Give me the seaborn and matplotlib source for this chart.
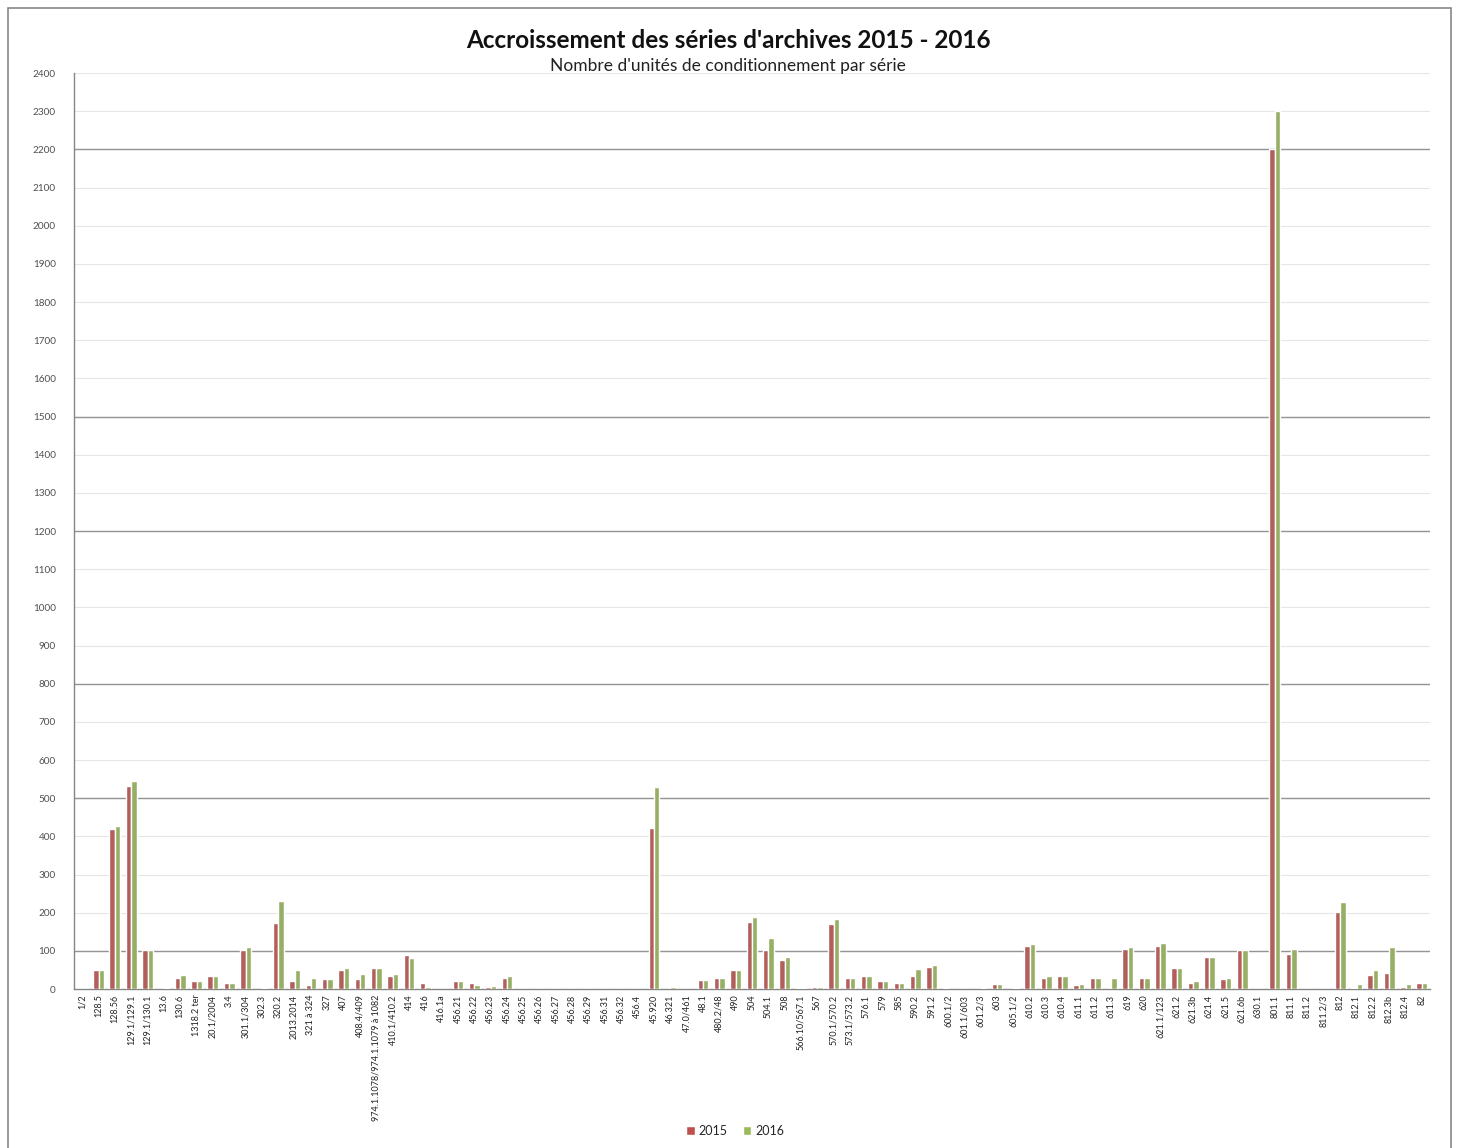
import numpy as np
import pandas as pd
import matplotlib
matplotlib.use("Agg")
import matplotlib.pyplot as plt
from matplotlib.patches import Patch, Rectangle
import seaborn as sns

# series codes (x axis)
series = [
    "1/2", "128.5", "128.56", "129.1/129.1", "129.1/130.1", "13.6", "130.6",
    "1318.2 ter", "20.1/2004", "3.4", "301.1/304", "302.3", "320.2", "2013.2014",
    "321 à 324", "327", "407", "408.4/409", "974.1.1078/974.1.1079 à 1082",
    "410.1/410.2", "414", "416", "416.1a", "456.21", "456.22", "456.23", "456.24",
    "456.25", "456.26", "456.27", "456.28", "456.29", "456.31", "456.32", "456.4",
    "45.920", "46.321", "47.0/461", "48.1", "480.2/48", "490", "504", "504.1",
    "508", "566.10/567.1", "567", "570.1/570.2", "573.1/573.2", "576.1", "579",
    "585", "590.2", "591.2", "600.1/2", "601.1/603", "601.2/3", "603", "605.1/2",
    "610.2", "610.3", "610.4", "611.1", "611.2", "611.3", "619", "620",
    "621.1/123", "621.2", "621.3b", "621.4", "621.5", "621.6b", "630.1", "801.1",
    "811.1", "811.2", "811.2/3", "812", "812.1", "812.2", "812.3b", "812.4", "82",
]

vals_2015 = [
    0, 50, 418, 531, 102, 0, 29, 22, 35, 15, 102, 0, 174, 22, 10, 25, 50, 25, 55,
    35, 90, 15, 0, 20, 15, 5, 30, 0, 0, 0, 0, 0, 0, 0, 0,
    421, 0, 0, 24, 28, 50, 175, 102, 76, 3, 5, 170, 28, 34, 20, 15, 34, 57, 3,
    0, 0, 13, 0, 112, 28, 34, 10, 28, 0, 105, 28, 112, 56, 15, 85, 25, 102, 0,
    2200, 92, 0, 0, 202, 3, 37, 43, 5, 15,
]

vals_2016 = [
    0, 50, 427, 545, 102, 3, 37, 22, 35, 15, 111, 3, 230, 50, 29, 25, 55, 40, 55,
    40, 80, 5, 0, 20, 10, 8, 35, 0, 0, 0, 0, 0, 0, 0, 0,
    529, 5, 0, 24, 28, 50, 188, 133, 83, 3, 5, 183, 28, 34, 20, 15, 52, 63, 0,
    0, 3, 13, 2, 118, 34, 34, 13, 28, 28, 111, 28, 120, 56, 22, 85, 28, 102, 0,
    2300, 105, 0, 0, 229, 13, 50, 111, 13, 15,
]

years = ["2015", "2016"]
colors = {"2015": "#C0504D", "2016": "#9BBB59"}

df = pd.DataFrame({
    "serie": series * 2,
    "annee": [years[0]] * len(series) + [years[1]] * len(series),
    "unites": vals_2015 + vals_2016,
})

sns.set_style("white")
plt.rcParams["font.family"] = ["Lato", "DejaVu Sans"]

fig = plt.figure(figsize=(14.57, 11.48), dpi=100)
ax = fig.add_axes([0.0508, 0.1385, 0.9307, 0.7979])
ax.set_axisbelow(True)

sns.barplot(data=df, x="serie", y="unites", hue="annee", palette=colors,
            width=0.66, gap=0, order=series, hue_order=years,
            legend=False, ax=ax)
for p in ax.patches:
    p.set_zorder(3)

n = len(series)
ax.set_xlim(-0.5, n - 0.5)
ax.set_ylim(0, 2400)
ax.set_yticks(np.arange(0, 2401, 100))
ax.set_yticklabels([str(v) for v in range(0, 2401, 100)], fontsize=7.2, color="#505050")
ax.set_xticks(range(n))
ax.set_xticklabels(series, rotation=90, fontsize=6.5, color="#222222")
ax.set_xticks(np.arange(-0.5, n, 1), minor=True)
ax.tick_params(axis="x", which="major", length=0, pad=4)
ax.tick_params(axis="x", which="minor", length=3, color="#868686")
ax.tick_params(axis="y", length=4, color="#868686", pad=9)
ax.set_xlabel("")
ax.set_ylabel("")

# light grid every 100, a few lines rendered darker as in the scan
ax.grid(axis="y", color="#e6e6e6", lw=0.8, zorder=0)
for y in [100, 500, 800, 1200, 1500, 2200]:
    ax.axhline(y, color="#939393", lw=1.0, zorder=1)

for s in ["top", "right"]:
    ax.spines[s].set_visible(False)
for s in ["left", "bottom"]:
    ax.spines[s].set_color("#868686")
    ax.spines[s].set_linewidth(1.0)

fig.text(0.4997, 1 - 40 / 1148, "Accroissement des séries d'archives 2015 - 2016",
         ha="center", va="center", fontsize=17.5, fontweight="bold", color="#111111")
fig.text(0.4997, 1 - 66 / 1148, "Nombre d'unités de conditionnement par série",
         ha="center", va="center", fontsize=12.5, color="#222222")

handles = [Patch(facecolor=colors[y], label=y) for y in years]
fig.legend(handles=handles, loc="center", bbox_to_anchor=(0.5045, 1 - 1131 / 1148),
           ncol=2, frameon=False, fontsize=9, handlelength=0.7, handleheight=0.7,
           handletextpad=0.3, columnspacing=1.2)

# chart area border
fig.patches.append(Rectangle((8 / 1457, -0.02), (1451 - 8) / 1457, 1.02 - 8 / 1148,
                             transform=fig.transFigure, fill=False,
                             edgecolor="#888888", lw=1.2))

fig.savefig("out.png", dpi=100, facecolor="white")
